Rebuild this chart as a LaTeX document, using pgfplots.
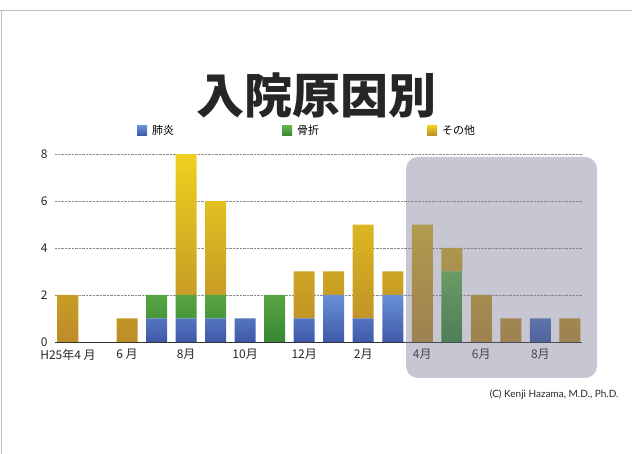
\documentclass[border=0pt]{standalone}
\usepackage{pgfplots}
\pgfplotsset{compat=1.18}
\usepackage{fontspec}
\setmainfont{Noto Sans CJK JP}
\newfontfamily\latinfont{Lato}
\definecolor{bluetop}{RGB}{105,145,215}
\definecolor{bluebot}{RGB}{62,88,168}
\definecolor{greentop}{RGB}{105,180,75}
\definecolor{greenbot}{RGB}{55,135,50}
\definecolor{yeltop}{RGB}{238,208,30}
\definecolor{yelbot}{RGB}{188,140,40}
\definecolor{boxgray}{RGB}{112,115,142}
\pgfplotstableread{
x blue green other
0 0 0 2
1 0 0 0
2 0 0 1
3 1 1 0
4 1 1 6
5 1 1 4
6 1 0 0
7 0 2 0
8 1 0 2
9 2 0 1
10 1 0 4
11 2 0 1
12 0 0 5
13 0 3 1
14 0 0 2
15 0 0 1
16 1 0 0
17 0 0 1
}\datatable
\begin{document}
\begin{tikzpicture}[x=1pt,y=1pt]
\path[use as bounding box] (0,0) rectangle (632,454);
\draw[gray!50, line width=0.6pt] (0,444) -- (632,444);
\draw[gray!50, line width=0.6pt] (1.5,0) -- (1.5,444);
\node[font=\fontsize{48}{52}\selectfont\bfseries, text=black!85] at (316,359) {入院原因別};
\begin{axis}[
  at={(55pt,112pt)}, anchor=south west,
  scale only axis, width=527pt, height=188pt,
  ymin=0, ymax=8, xmin=-0.44, xmax=17.41,
  ytick={0,2,4,6,8},
  xtick={0,2,4,6,8,10,12,14,16},
  xticklabels={H25年4 月,6 月,8月,10月,12月,2月,4月,6月,8月},
  ybar stacked, bar width=21pt,
  axis lines=left,
  axis line style={-},
  y axis line style={draw=none},
  x axis line style={black!80, line width=0.8pt},
  major tick length=0pt,
  ymajorgrids,
  major grid style={densely dotted, black!45, line width=0.5pt},
  /pgf/number format/assume math mode=true,
  tick label style={font=\fontsize{12}{14}\selectfont, text=black!85},
  xticklabel style={yshift=-4pt},
  yticklabel style={xshift=-4pt},
  legend columns=3,
  legend style={draw=none, fill=none, at={(0.15,1.122)}, anchor=west,
    font=\fontsize{11}{13}\selectfont,
    /tikz/every even column/.append style={column sep=106pt},
    /tikz/every odd column/.append style={column sep=3pt}},
  legend image code/.code={\fill[#1] (0pt,-4.5pt) rectangle (10pt,5.5pt);},
]
\addplot[draw=none, top color=bluetop, bottom color=bluebot] table[x=x,y=blue] {\datatable};
\addplot[draw=none, top color=greentop, bottom color=greenbot] table[x=x,y=green] {\datatable};
\addplot[draw=none, top color=yeltop, bottom color=yelbot] table[x=x,y=other] {\datatable};
\legend{肺炎,骨折,その他}
\end{axis}
\fill[boxgray, fill opacity=0.4, rounded corners=12pt] (406,76) rectangle (597,297);
\node[anchor=east, font=\latinfont\fontsize{10}{12}\selectfont, text=black!85] at (622,59) {(C) Kenji Hazama, M.D., Ph.D.};
\end{tikzpicture}
\end{document}
